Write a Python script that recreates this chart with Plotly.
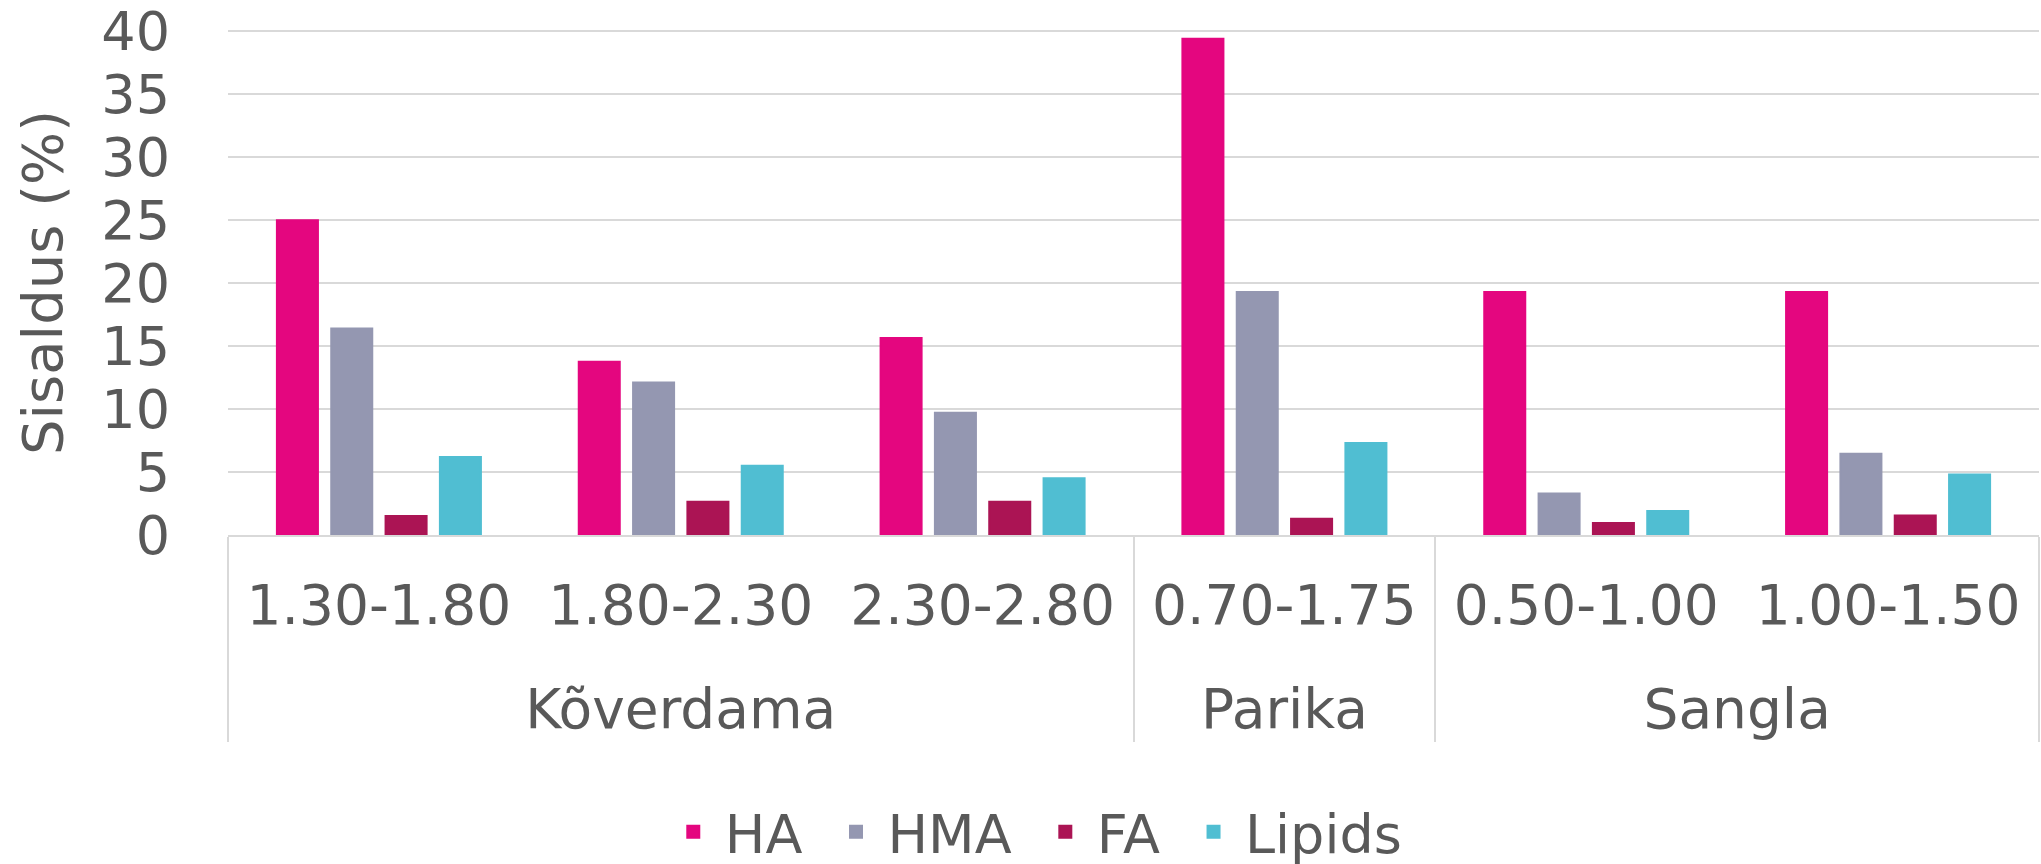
import plotly.graph_objects as go

groups = ["Kõverdama", "Kõverdama", "Kõverdama", "Parika", "Sangla", "Sangla"]
depths = ["1.30-1.80", "1.80-2.30", "2.30-2.80", "0.70-1.75", "0.50-1.00", "1.00-1.50"]

ha = [25.0, 13.75, 15.65, 39.4, 19.3, 19.3]
hma = [16.4, 12.1, 9.7, 19.3, 3.3, 6.45]
fa = [1.5, 2.65, 2.65, 1.3, 0.95, 1.55]
lipids = [6.2, 5.5, 4.5, 7.3, 1.9, 4.8]

names = ["HA", "HMA", "FA", "Lipids"]
colors = ["#E4067F", "#9497B1", "#AB1454", "#50BED2"]
values = [ha, hma, fa, lipids]

FONT = "Verdana, DejaVu Sans, sans-serif"
TXT = "#595959"
GRID = "#D9D9D9"

# invisible tall spacers make the first label row taller, pushing the group row down
pad = "<span style='font-size:106px'>\u00a0</span>"
depth_labels = [pad + d + pad for d in depths]

fig = go.Figure()
for i, (name, vals, col) in enumerate(zip(names, values, colors)):
    legend_name = name + ("\u00a0" if i < len(names) - 1 else "")
    fig.add_trace(go.Bar(x=[groups, depth_labels], y=vals, name=legend_name,
                         marker=dict(color=col, line=dict(width=2, color=col))))

fig.update_layout(
    width=2041, height=864,
    barmode="group", bargap=0.28, bargroupgap=0.245,
    paper_bgcolor="white", plot_bgcolor="white",
    margin=dict(l=228, r=2, t=30, b=329, autoexpand=False),
    font=dict(family=FONT, size=54, color=TXT),
    legend=dict(orientation="h", xref="container", yref="container",
                x=0.507, y=0.037, xanchor="center", yanchor="middle",
                font=dict(size=54, color=TXT), itemwidth=53,
                traceorder="normal"),
    showlegend=True,
)
fig.update_yaxes(range=[0, 40.1], tick0=0, dtick=5, showgrid=True, gridcolor=GRID, gridwidth=2,
                 zeroline=False, showline=False, ticks="", ticklabelstandoff=57,
                 ticklabeloverflow="allow",
                 tickfont=dict(size=54, color=TXT),
                 title=dict(text="Sisaldus (%)", font=dict(size=56, color=TXT), standoff=20))
fig.update_xaxes(type="multicategory", showline=True, linecolor=GRID, linewidth=2,
                 showgrid=False, ticks="", showdividers=True, dividercolor=GRID,
                 dividerwidth=2, ticklabelstandoff=21, tickangle=0,
                 tickfont=dict(size=55, color=TXT))

fig.write_html("out.html", config={"displayModeBar": False},
               post_script="document.body.style.margin='0';document.body.style.overflow='hidden';")
